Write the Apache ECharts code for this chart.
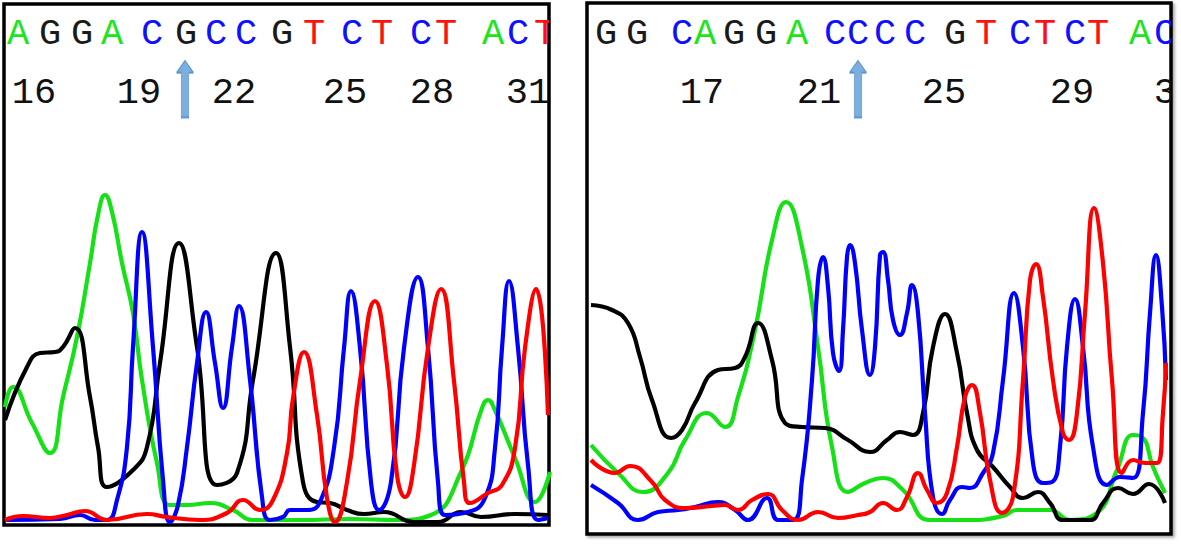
<!DOCTYPE html>
<html><head><meta charset="utf-8">
<script src="https://cdn.jsdelivr.net/npm/echarts@6/dist/echarts.min.js"></script>
<style>html,body{margin:0;padding:0;background:#fff}#c{width:1181px;height:544px}</style>
</head><body><div id="c"></div>
<script>
// ---------- Left chromatogram (wild type) ----------
const leftBases = ['A','G','G','A','C','G','C','C','G','T','C','T','C','T','A','C','T'];
const leftBasePos = [18,50,82,112,152,186,216,246,282,314,352,382,421,446,493,518,545];
const leftTickLabels = ['16','19','22','25','28','31'];
const leftTickPos = [34,139,234,345,432,528];
const leftArrowPos = [185];

const leftA = [[5,113],[13,133],[32,97],[50,67],[63,123],[77,183],[90,257],[98,305],[105,325],[112,308],[122,257],[133,207],[142,140],[157,57],[170,15],[187,15],[210,17],[233,10],[253,0],[300,0],[350,1],[397,0],[431,5],[461,48],[482,112],[488,120],[494,112],[515,62],[535,18],[550,48]];
const leftG = [[5,100],[27,153],[40,167],[55,168],[63,173],[75,192],[90,123],[98,73],[107,33],[133,50],[147,73],[160,157],[179,277],[197,173],[217,35],[237,47],[253,140],[276,267],[290,173],[303,38],[317,18],[330,17],[347,10],[364,6],[384,8],[414,-2],[438,-2],[461,8],[481,3],[515,6],[548,5]];
const leftC = [[5,0],[60,1],[80,5],[95,0],[107,0],[117,20],[127,73],[133,173],[142,288],[153,173],[163,40],[170,-2],[178,15],[187,73],[197,157],[206,208],[215,157],[223,112],[232,173],[239,214],[250,140],[262,23],[270,0],[283,3],[290,10],[307,10],[320,18],[334,72],[344,172],[351,229],[360,172],[371,38],[379,10],[391,38],[404,172],[418,243],[428,172],[438,38],[445,5],[468,8],[485,22],[495,72],[502,172],[509,239],[518,172],[528,55],[538,0],[548,2]];
const leftT = [[5,0],[23,4],[50,2],[67,5],[85,9],[107,0],[147,6],[167,3],[200,0],[227,7],[243,20],[260,10],[273,20],[287,67],[293,122],[304,168],[317,105],[327,22],[335,-2],[347,38],[360,139],[375,219],[387,155],[397,45],[405,23],[414,55],[428,172],[441,231],[454,139],[464,38],[470,17],[488,27],[502,35],[515,72],[525,172],[536,231],[548,105]];

// ---------- Right chromatogram (mutant) ----------
const rightBases = ['G','G','C','A','G','G','A','C','C','C','C','G','T','C','T','C','T','A','C'];
const rightBasePos = [606,637,682,705,734,766,797,835,858,885,915,955,986,1020,1045,1075,1098,1140,1165];
const rightTickLabels = ['17','21','25','29','33'];
const rightTickPos = [702,819,944,1072,1176];
const rightArrowPos = [858];

const rightA = [[591,75],[618,47],[643,28],[668,47],[685,80],[707,107],[725,93],[738,123],[755,190],[772,280],[786,318],[802,273],[818,173],[832,73],[848,28],[865,37],[883,42],[903,30],[930,0],[970,0],[1003,4],[1017,10],[1050,10],[1070,0],[1097,7],[1117,50],[1133,85],[1142,83],[1153,53],[1165,27]];
const rightG = [[591,215],[612,210],[628,197],[640,163],[652,120],[671,82],[682,90],[695,117],[718,150],[735,152],[745,163],[758,197],[772,160],[785,97],[802,93],[825,92],[848,80],[870,68],[887,80],[900,88],[913,85],[923,107],[933,173],[945,206],[957,167],[967,107],[977,70],[993,53],[1010,33],[1023,22],[1038,28],[1050,17],[1063,0],[1090,0],[1103,17],[1118,32],[1133,26],[1149,36],[1165,17]];
const rightC = [[591,35],[618,17],[638,0],[658,8],[678,10],[695,13],[718,18],[735,10],[748,0],[767,22],[778,0],[793,0],[802,40],[812,140],[818,240],[823,263],[828,233],[833,167],[839,149],[843,190],[847,263],[850,275],[855,257],[862,190],[870,145],[875,173],[880,265],[883,268],[888,240],[893,200],[900,185],[907,207],[912,235],[918,207],[925,107],[933,23],[942,6],[950,20],[962,33],[970,32],[983,47],[993,67],[1003,140],[1014,227],[1023,173],[1033,57],[1043,37],[1052,38],[1060,73],[1067,173],[1075,221],[1083,173],[1093,73],[1107,35],[1120,43],[1133,42],[1143,107],[1150,207],[1156,265],[1162,213],[1166,140]];
const rightT = [[591,60],[615,47],[630,54],[652,38],[665,20],[685,12],[712,14],[725,15],[738,10],[752,20],[768,26],[782,10],[798,0],[818,8],[838,2],[858,5],[870,8],[883,17],[897,10],[907,23],[918,47],[927,30],[937,17],[947,27],[957,73],[965,123],[972,135],[980,107],[990,40],[1002,7],[1013,23],[1023,140],[1030,240],[1036,256],[1043,223],[1053,140],[1063,87],[1069,80],[1077,107],[1085,207],[1094,312],[1103,257],[1112,140],[1122,47],[1133,60],[1145,57],[1157,57],[1163,107],[1166,157]];

// ---------- styling ----------
const baseColor = {A:'#1ee41e', C:'#1010ff', G:'#1a1a1a', T:'#ff1010'};
const traceColor = {A:'#16e016', C:'#0000ff', G:'#000000', T:'#ff0000'};
const FONT = '37px "Liberation Mono", "DejaVu Sans Mono", monospace';
const LETTER_ROW = 486, NUMBER_ROW = 427, ARROW_ROW = 431;

const chart = echarts.init(document.getElementById('c'), null, {renderer:'svg'});

function textSeries(gi, labels, pos, row, colorFn) {
  return {
    type:'custom', xAxisIndex:gi, yAxisIndex:gi, clip:true, z:5,
    data: pos.map((x,i)=>[x,row,i]),
    renderItem:(params, api)=>{
      const p = api.coord([api.value(0), api.value(1)]);
      const t = labels[api.value(2)];
      return {type:'text', x:p[0], y:p[1],
        style:{text:t, fill:colorFn(t), font:FONT, align:'center', verticalAlign:'middle'}};
    }
  };
}
function arrowSeries(gi, pos) {
  return {
    type:'scatter', xAxisIndex:gi, yAxisIndex:gi, z:6,
    symbol:'path://M9,0 L18,12 L13,12 L13,56 L5,56 L5,12 L0,12 Z',
    symbolSize:[17,57], symbolKeepAspect:false,
    itemStyle:{color:'#5b9bd5', borderColor:'#4a88c4', borderWidth:1},
    data: pos.map(x=>[x,ARROW_ROW]), silent:true
  };
}
function trace(gi, data, base) {
  return {type:'line', xAxisIndex:gi, yAxisIndex:gi, data, symbol:'none',
    smooth:0.5, clip:true, lineStyle:{color:traceColor[base], width:4.2}, silent:true};
}

const hiddenAxis = {show:false};
chart.setOption({
  animation:false,
  grid:[
    {left:4, top:4, width:545, height:521, show:true, borderColor:'#000', borderWidth:3.5, backgroundColor:'#fff'},
    {left:587, top:3, width:584, height:531, show:true, borderColor:'#000', borderWidth:3.5, backgroundColor:'#fff',
     shadowColor:'rgba(0,0,0,0.35)', shadowBlur:3, shadowOffsetX:2, shadowOffsetY:2}
  ],
  xAxis:[
    {type:'value', gridIndex:0, min:4, max:549, ...hiddenAxis},
    {type:'value', gridIndex:1, min:587, max:1171, ...hiddenAxis}
  ],
  yAxis:[
    {type:'value', gridIndex:0, min:-5, max:516, ...hiddenAxis},
    {type:'value', gridIndex:1, min:-14, max:517, ...hiddenAxis}
  ],
  series:[
    trace(0,leftA,'A'), trace(0,leftG,'G'), trace(0,leftC,'C'), trace(0,leftT,'T'),
    trace(1,rightA,'A'), trace(1,rightG,'G'), trace(1,rightC,'C'), trace(1,rightT,'T'),
    textSeries(0,leftBases,leftBasePos,LETTER_ROW,b=>baseColor[b]),
    textSeries(0,leftTickLabels,leftTickPos,NUMBER_ROW,()=>'#111'),
    textSeries(1,rightBases,rightBasePos,LETTER_ROW,b=>baseColor[b]),
    textSeries(1,rightTickLabels,rightTickPos,NUMBER_ROW,()=>'#111'),
    arrowSeries(0,leftArrowPos), arrowSeries(1,rightArrowPos)
  ]
});
</script></body></html>
